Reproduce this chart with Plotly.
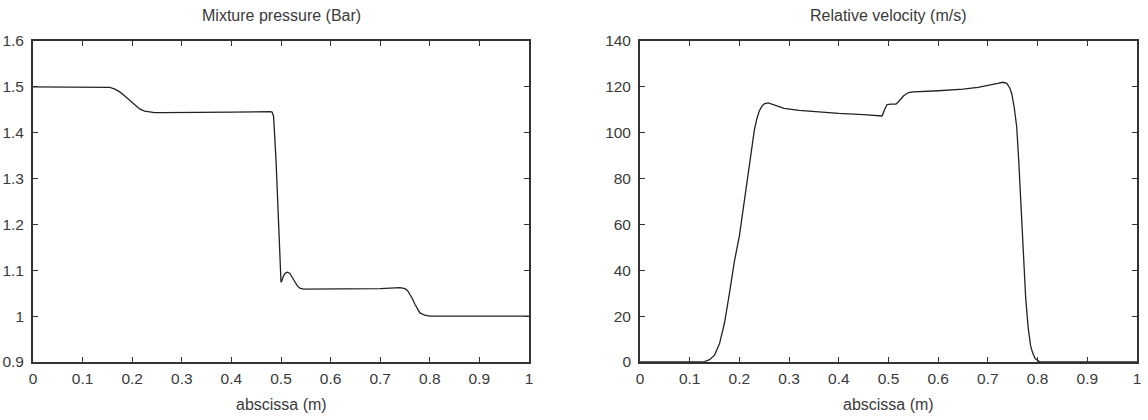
import plotly.graph_objects as go

# Left panel: mixture pressure (Bar)
x_p = [0, 0.1, 0.145, 0.155, 0.165, 0.175, 0.185, 0.195, 0.205, 0.215, 0.225, 0.235, 0.245, 0.26,
       0.3, 0.4, 0.478, 0.482, 0.485, 0.488, 0.49, 0.493, 0.495, 0.498, 0.5, 0.502, 0.505,
       0.509, 0.513, 0.518, 0.523, 0.528, 0.533, 0.538, 0.545, 0.6, 0.7, 0.74, 0.75, 0.755,
       0.76, 0.765, 0.77, 0.775, 0.78, 0.79, 0.8, 1.0]
p_val = [1.5, 1.5, 1.5, 1.499, 1.495, 1.489, 1.48, 1.47, 1.46, 1.452, 1.447, 1.445, 1.444, 1.444,
         1.444, 1.445, 1.446, 1.445, 1.436, 1.39, 1.34, 1.26, 1.2, 1.1, 1.074, 1.078, 1.088,
         1.094, 1.096, 1.093, 1.085, 1.075, 1.066, 1.061, 1.059, 1.059, 1.06, 1.062, 1.06, 1.056,
         1.048, 1.038, 1.026, 1.015, 1.007, 1.002, 1.0, 1.0]

# Right panel: relative velocity (m/s)
x_v = [0, 0.12, 0.13, 0.14, 0.15, 0.16, 0.17, 0.18, 0.19, 0.2, 0.21, 0.22, 0.23, 0.235, 0.24,
       0.245, 0.25, 0.258, 0.265, 0.275, 0.29, 0.32, 0.36, 0.4, 0.45, 0.487, 0.492, 0.497, 0.505,
       0.515, 0.52, 0.53, 0.54, 0.55, 0.6, 0.65, 0.68, 0.7, 0.72, 0.73, 0.738, 0.744, 0.748,
       0.753, 0.758, 0.762, 0.765, 0.771, 0.776, 0.781, 0.786, 0.79, 0.795, 0.805, 1.0]
v_val = [0, 0, 0.2, 1, 3, 8, 17, 30, 44, 55, 70, 86, 101, 106, 109.5,
         111.5, 112.6, 113, 112.5, 111.5, 110.6, 109.7, 109, 108.4, 107.9, 107.3, 110, 112.3, 112.5,
         112.5, 113.5, 116, 117.5, 117.8, 118.3, 119, 119.8, 120.5, 121.5, 122, 121.5, 119.5, 117,
         111, 102.5, 88, 74, 44.5, 28, 15, 7, 4, 1.5, 0, 0]

x_ticks = [0, 0.1, 0.2, 0.3, 0.4, 0.5, 0.6, 0.7, 0.8, 0.9, 1]
x_labels = ["0", "0.1", "0.2", "0.3", "0.4", "0.5", "0.6", "0.7", "0.8", "0.9", "1"]
p_ticks = [0.9, 1.0, 1.1, 1.2, 1.3, 1.4, 1.5, 1.6]
p_labels = ["0.9", "1", "1.1", "1.2", "1.3", "1.4", "1.5", "1.6"]
v_ticks = [0, 20, 40, 60, 80, 100, 120, 140]
v_labels = ["0", "20", "40", "60", "80", "100", "120", "140"]

titles = ["Mixture pressure (Bar)", "Relative velocity (m/s)"]
x_title = "abscissa (m)"

W, H = 1148, 420
FONT = "Liberation Sans, Arial, sans-serif"
line_col = "#222222"
text_col = "#3a3a3a"

fig = go.Figure()
fig.add_trace(go.Scatter(x=x_p, y=p_val, mode="lines", line=dict(color=line_col, width=1.3),
                         xaxis="x", yaxis="y", showlegend=False))
fig.add_trace(go.Scatter(x=x_v, y=v_val, mode="lines", line=dict(color=line_col, width=1.3),
                         xaxis="x2", yaxis="y2", showlegend=False))

ydom = [1 - 362 / H, 1 - 41 / H]
d1 = [33 / W, 529 / W]
d2 = [640 / W, 1137 / W]

axis_common = dict(showline=True, linecolor="#333333", linewidth=1.8, mirror="ticks",
                   ticks="inside", ticklen=5, tickwidth=1.2, tickcolor="#333333",
                   showgrid=False, zeroline=False, automargin=False,
                   tickfont=dict(family=FONT, size=15.5, color=text_col))

fig.update_layout(
    width=W, height=H, margin=dict(l=0, r=0, t=0, b=0, autoexpand=False),
    paper_bgcolor="white", plot_bgcolor="white",
    xaxis=dict(domain=d1, range=[0, 1], tickvals=x_ticks, ticktext=x_labels, anchor="y",
               ticklabelstandoff=1, **axis_common),
    yaxis=dict(domain=ydom, range=[0.9, 1.6], tickvals=p_ticks, ticktext=p_labels, anchor="x",
               ticklabelstandoff=4, **axis_common),
    xaxis2=dict(domain=d2, range=[0, 1], tickvals=x_ticks, ticktext=x_labels, anchor="y2",
                ticklabelstandoff=1, **axis_common),
    yaxis2=dict(domain=ydom, range=[0, 140], tickvals=v_ticks, ticktext=v_labels, anchor="x2",
                ticklabelstandoff=4, **axis_common),
)

ann = []
for dom, t in zip([d1, d2], titles):
    cx = (dom[0] + dom[1]) / 2
    ann.append(dict(text=t, x=cx, y=1 - 16 / H, xref="paper", yref="paper", showarrow=False,
                    xanchor="center", yanchor="middle", font=dict(family=FONT, size=16, color=text_col)))
    ann.append(dict(text=x_title, x=cx, y=1 - 404 / H, xref="paper", yref="paper", showarrow=False,
                    xanchor="center", yanchor="middle", font=dict(family=FONT, size=16, color=text_col)))
fig.update_layout(annotations=ann)

fig.write_html("out.html")
